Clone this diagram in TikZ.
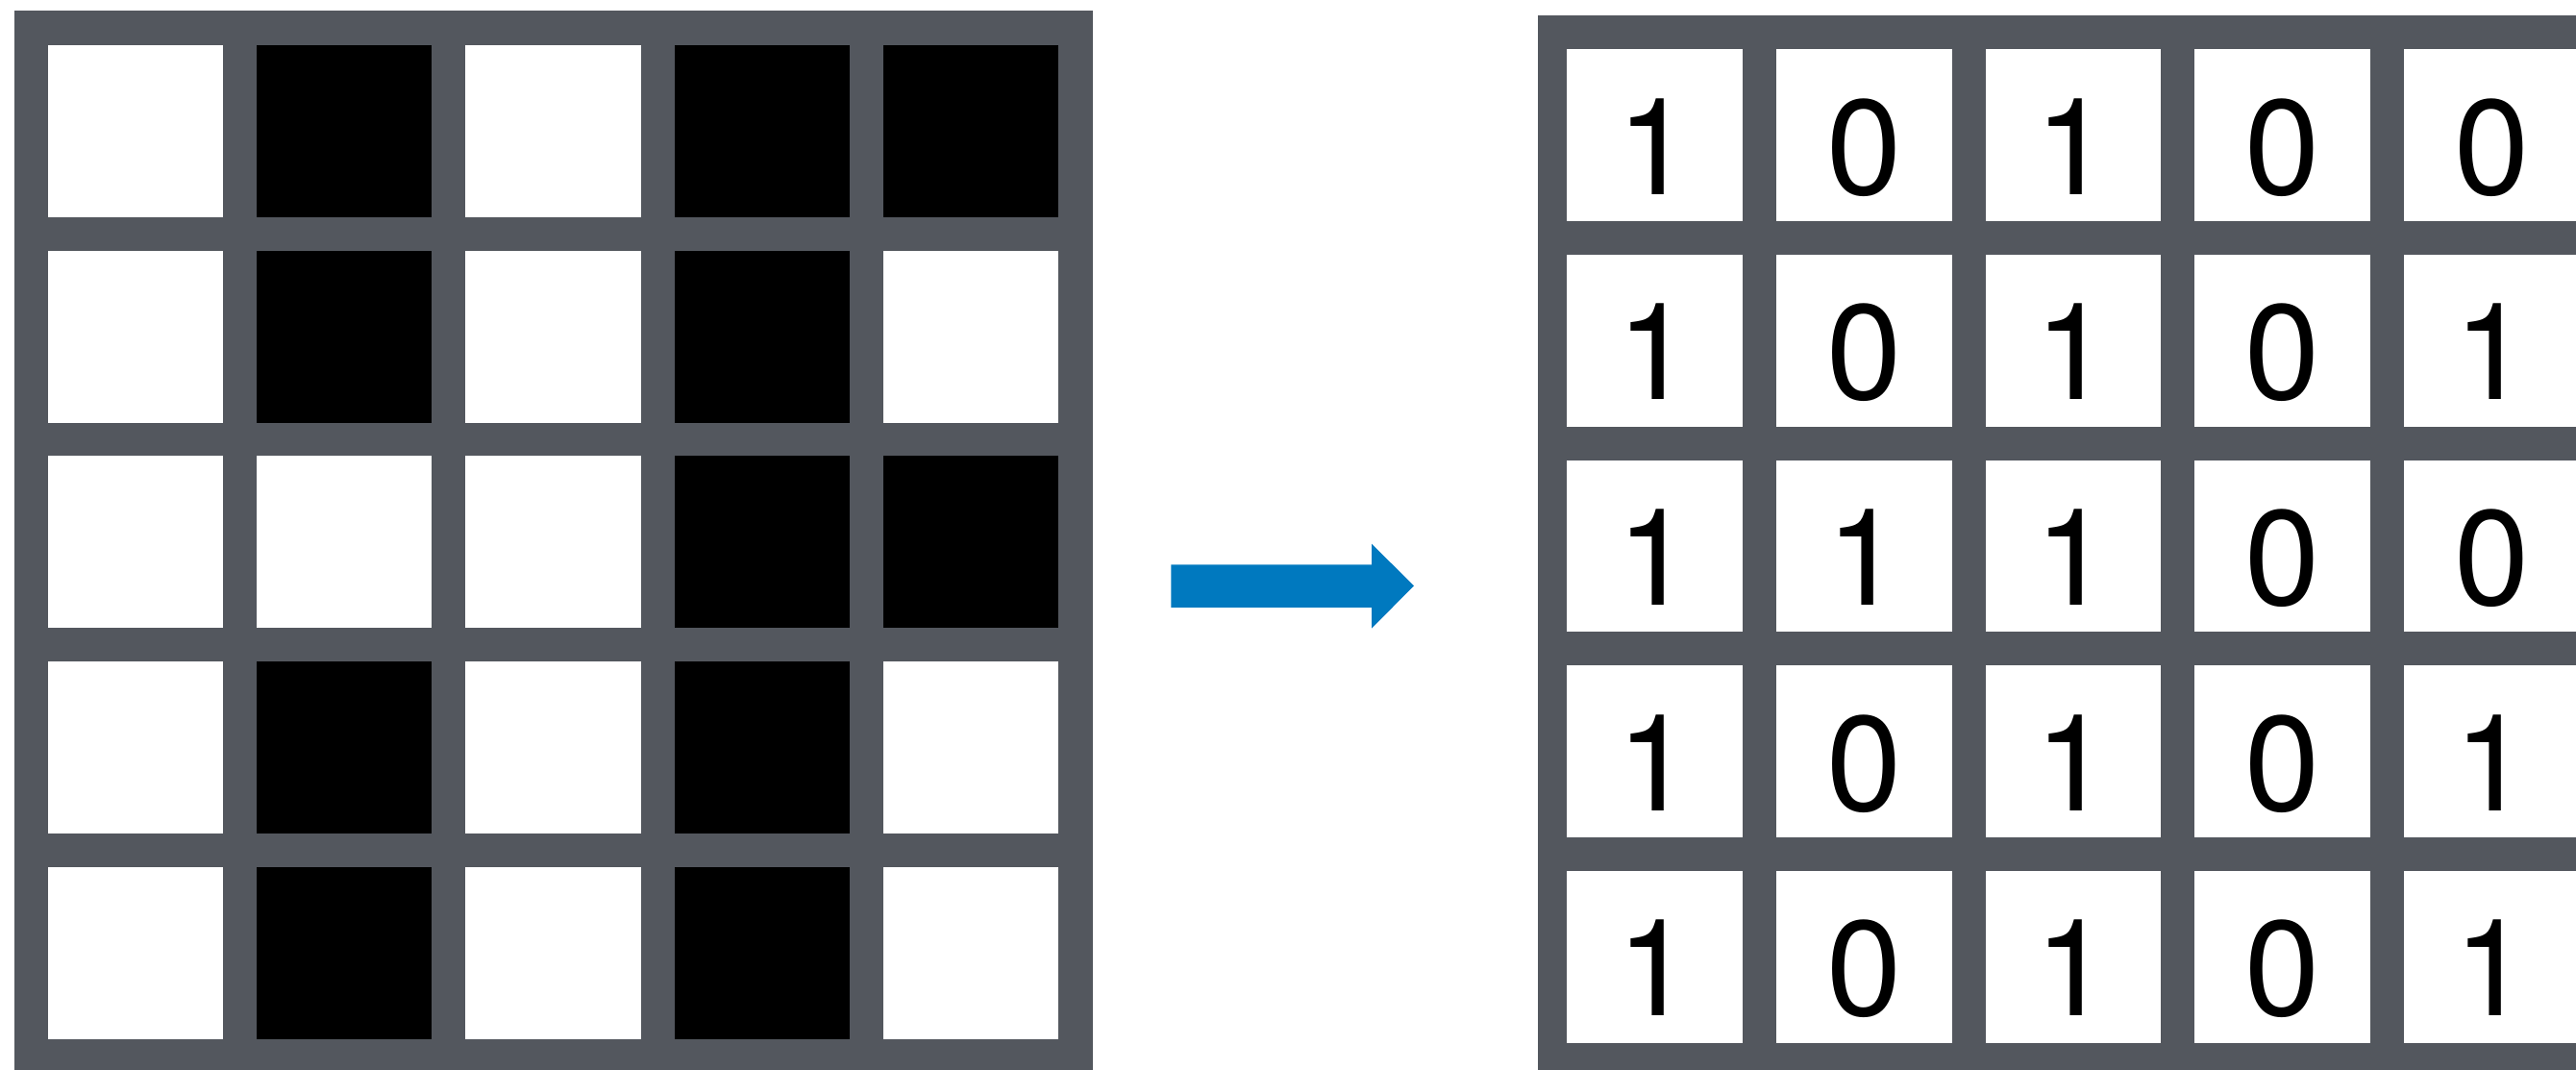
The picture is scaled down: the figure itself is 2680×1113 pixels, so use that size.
\documentclass[tikz,border=0pt]{standalone}
\usepackage{fontspec}
\setmainfont{TeX Gyre Heros}
\definecolor{gridgray}{HTML}{53575E}
\definecolor{arrowblue}{HTML}{0079BF}
\begin{document}
\begin{tikzpicture}[x=0.01cm,y=-0.01cm,
  cellbox/.style={rectangle, draw=none, inner sep=0pt, outer sep=0pt, anchor=north west},
  leftcell/.style={cellbox, minimum width=1.823cm, minimum height=1.79cm},
  rightcell/.style={cellbox, fill=white, minimum width=1.827cm, minimum height=1.787cm},
  pix1/.style={fill=white},
  pix0/.style={fill=black},
  digit/.style={font=\fontsize{40}{40}\selectfont, inner sep=0pt, anchor=base}]
\useasboundingbox (0,0) rectangle (2680,1113);
\clip (0,0) rectangle (2680,1113);
\fill[white] (0,0) rectangle (2680,1113);

% pixel image: grey frame with black/white pixels
\fill[gridgray] (15,11) rectangle (1136.7,1120);
\foreach \vals [count=\r from 0] in {{1,0,1,0,0},{1,0,1,0,1},{1,1,1,0,0},{1,0,1,0,1},{1,0,1,0,1}} {
  \foreach \v [count=\c from 0] in \vals {
    \node[leftcell, pix\v] (L-\r-\c) at ({49.7+\c*217.3},{47+\r*213.7}) {};
  }
}

% conversion arrow
\fill[arrowblue] (1218.3,587.3) -- (1427,587.3) -- (1427,565.7) -- (1471,609.3)
  -- (1427,653.7) -- (1427,632) -- (1218.3,632) -- cycle;

% binary matrix
\fill[gridgray] (1600,16) rectangle (2720,1120);
\foreach \vals [count=\r from 0] in {{1,0,1,0,0},{1,0,1,0,1},{1,1,1,0,0},{1,0,1,0,1},{1,0,1,0,1}} {
  \foreach \v [count=\c from 0] in \vals {
    \node[rightcell] (R-\r-\c) at ({1630.3+\c*217.6},{51.3+\r*213.7}) {};
    \node[digit] (D-\r-\c) at ([yshift=0.28cm]R-\r-\c.south) {\v};
  }
}
\end{tikzpicture}
\end{document}
